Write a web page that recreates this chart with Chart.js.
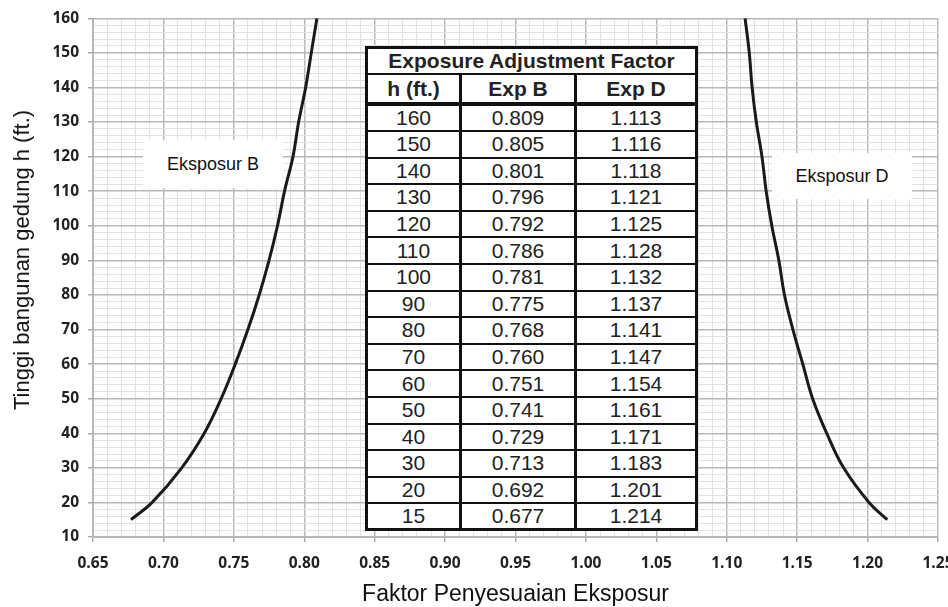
<!DOCTYPE html>
<html>
<head>
<meta charset="utf-8">
<script src="https://cdn.jsdelivr.net/npm/chart.js@4.4.1/dist/chart.umd.min.js"></script>
<style>
  body { margin: 0; background: #fff; }
  #wrap { position: relative; width: 948px; height: 607px; }
  .ytitle {
    position: absolute; left: 22px; top: 260px;
    transform: translate(-50%, -50%) rotate(-90deg);
    white-space: nowrap; font: 22px "Liberation Sans", Arial, sans-serif; color: #111;
  }
  .lbl {
    position: absolute; background: #fff; text-align: center;
    font: 18px "Liberation Sans", Arial, sans-serif; color: #111;
  }
  #tbl {
    position: absolute; left: 365px; top: 46px; width: 330px;
    border-collapse: collapse; table-layout: fixed; background: #fff;
    border: 3px solid #111;
  }
  #tbl td {
    padding: 0; text-align: center; color: #222;
    font: 21px "Liberation Sans", Arial, sans-serif;
    border-left: 3px solid #111; border-right: 3px solid #111;
    border-top: 2px solid #111; border-bottom: 2px solid #111;
  }
  #tbl tr.head td { font-weight: bold; }
</style>
</head>
<body>
<div id="wrap">
  <canvas id="chart"></canvas>
  <div class="ytitle">Tinggi bangunan gedung h (ft.)</div>
  <div class="lbl" style="left:143px;top:140px;width:140px;height:48px;line-height:48px;">Eksposur B</div>
  <div class="lbl" style="left:772px;top:153px;width:140px;height:46px;line-height:46px;">Eksposur D</div>
  <table id="tbl"></table>
</div>
<script>
const alturas = [15, 20, 30, 40, 50, 60, 70, 80, 90, 100, 110, 120, 130, 140, 150, 160];
const expB = [0.677, 0.692, 0.713, 0.729, 0.741, 0.751, 0.760, 0.768, 0.775, 0.781, 0.786, 0.792, 0.796, 0.801, 0.805, 0.809];
const expD = [1.214, 1.201, 1.183, 1.171, 1.161, 1.154, 1.147, 1.141, 1.137, 1.132, 1.128, 1.125, 1.121, 1.118, 1.116, 1.113];
const tituloTabla = "Exposure Adjustment Factor";
const columnas = ["h (ft.)", "Exp B", "Exp D"];

// -------------------------------------
// Tabla
// -------------------------------------
const tbl = document.getElementById("tbl");
let html = `<colgroup><col style="width:94px"><col style="width:115px"><col style="width:121px"></colgroup>`;
html += `<tr class="head" style="height:25px"><td colspan="3">${tituloTabla}</td></tr>`;
html += `<tr class="head" style="height:30px">` + columnas.map(c => `<td style="border-bottom-width:4px">${c}</td>`).join("") + `</tr>`;
for (let i = alturas.length - 1; i >= 0; i--) {
  html += `<tr style="height:26.6px"><td>${alturas[i]}</td><td>${expB[i].toFixed(3)}</td><td>${expD[i].toFixed(3)}</td></tr>`;
}
tbl.innerHTML = html;

// -------------------------------------
// Grafico
// -------------------------------------
const esMayorX = v => Math.round(v * 100) % 5 === 0;
const esMayorY = v => Math.round(v) % 10 === 0;
const fuenteTicks = { family: "'Open Sans', sans-serif", size: 15.5, weight: "bold" };

new Chart(document.getElementById("chart"), {
  type: "scatter",
  data: {
    datasets: [
      {
        label: "Exp B",
        data: alturas.map((h, i) => ({ x: expB[i], y: h })),
        showLine: true,
        borderColor: "#1a1a1a",
        borderWidth: 3,
        pointRadius: 0,
        tension: 0.4
      },
      {
        label: "Exp D",
        data: alturas.map((h, i) => ({ x: expD[i], y: h })),
        showLine: true,
        borderColor: "#1a1a1a",
        borderWidth: 3,
        pointRadius: 0,
        tension: 0.4
      }
    ]
  },
  options: {
    responsive: true,
    maintainAspectRatio: false,
    animation: false,
    layout: { padding: { top: 18, right: 10, left: 0, bottom: 0 } },
    plugins: { legend: { display: false }, tooltip: { enabled: false } },
    scales: {
      x: {
        type: "linear",
        min: 0.65,
        max: 1.25,
        border: { color: "#b8b8b8" },
        grid: {
          color: c => esMayorX(c.tick.value) ? "#b8b8b8" : "#e2e2e2",
          lineWidth: c => esMayorX(c.tick.value) ? 1.5 : 1,
          tickColor: c => esMayorX(c.tick.value) ? "#aaa" : "rgba(0,0,0,0)",
          tickLength: 5
        },
        ticks: {
          stepSize: 0.01,
          autoSkip: false,
          maxRotation: 0,
          minRotation: 0,
          padding: 12,
          color: "#222",
          font: fuenteTicks,
          callback: v => esMayorX(v) ? v.toFixed(2) : ""
        },
        title: {
          display: true,
          text: "Faktor Penyesuaian Eksposur",
          color: "#111",
          font: { family: "'Liberation Sans', Arial, sans-serif", size: 23, lineHeight: 1.1 },
          padding: 0
        },
        afterFit: s => { s.height = 70; s.paddingLeft = 0; s.paddingRight = 0; }
      },
      y: {
        type: "linear",
        min: 10,
        max: 160,
        border: { color: "#b8b8b8" },
        grid: {
          color: c => esMayorY(c.tick.value) ? "#b8b8b8" : "#e2e2e2",
          lineWidth: c => esMayorY(c.tick.value) ? 1.5 : 1,
          tickColor: c => esMayorY(c.tick.value) ? "#aaa" : "rgba(0,0,0,0)",
          tickLength: 5
        },
        ticks: {
          stepSize: 2,
          autoSkip: false,
          padding: 9,
          color: "#222",
          font: fuenteTicks,
          callback: v => esMayorY(v) ? String(v) : ""
        },
        afterFit: s => { s.width = 93; }
      }
    }
  }
});
</script>
</body>
</html>
